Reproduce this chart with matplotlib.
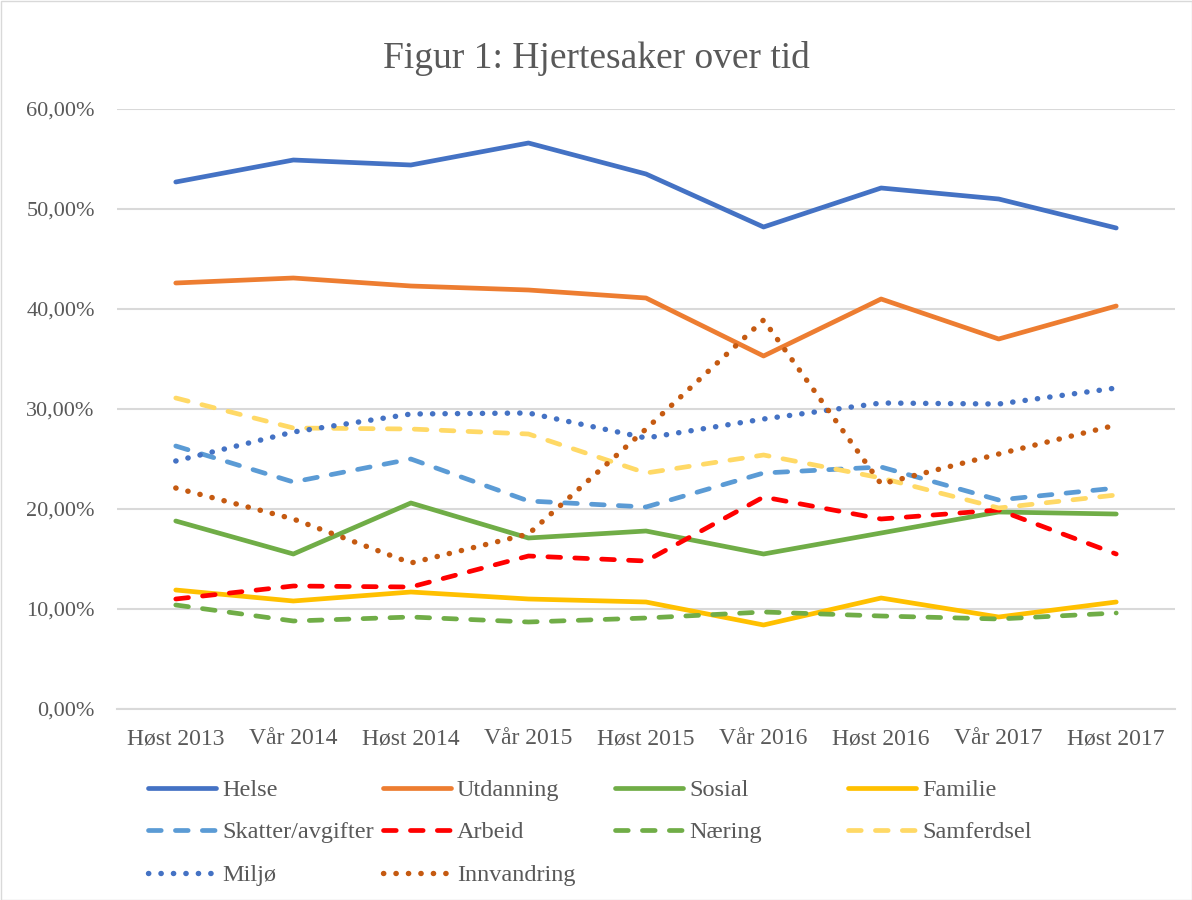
import matplotlib
matplotlib.use("Agg")
import matplotlib.pyplot as plt
from matplotlib.lines import Line2D
from matplotlib.patches import Rectangle

plt.rcParams['font.family'] = ['Liberation Serif', 'DejaVu Serif']

periods = ["Høst 2013", "Vår 2014", "Høst 2014", "Vår 2015", "Høst 2015",
           "Vår 2016", "Høst 2016", "Vår 2017", "Høst 2017"]

helse = [52.7, 54.9, 54.4, 56.6, 53.5, 48.2, 52.1, 51.0, 48.1]
utdanning = [42.6, 43.1, 42.3, 41.9, 41.1, 35.3, 41.0, 37.0, 40.3]
sosial = [18.8, 15.5, 20.6, 17.1, 17.8, 15.5, 17.6, 19.7, 19.5]
familie = [11.9, 10.8, 11.7, 11.0, 10.7, 8.4, 11.1, 9.2, 10.7]
skatter = [26.3, 22.7, 25.0, 20.8, 20.2, 23.6, 24.2, 20.9, 22.1]
arbeid = [11.0, 12.3, 12.2, 15.3, 14.8, 21.2, 19.0, 19.9, 15.5]
naering = [10.4, 8.8, 9.2, 8.7, 9.1, 9.7, 9.3, 9.0, 9.6]
samferdsel = [31.1, 28.1, 28.0, 27.5, 23.6, 25.4, 23.1, 20.1, 21.4]
miljo = [24.8, 27.7, 29.5, 29.6, 27.1, 29.0, 30.6, 30.5, 32.1]
innvandring = [22.1, 19.0, 14.6, 17.5, 28.0, 38.9, 22.5, 25.5, 28.4]

series = [
    ("Helse", helse, "#4472C4", "solid"),
    ("Utdanning", utdanning, "#ED7D31", "solid"),
    ("Sosial", sosial, "#70AD47", "solid"),
    ("Familie", familie, "#FFC000", "solid"),
    ("Skatter/avgifter", skatter, "#5B9BD5", "dash"),
    ("Arbeid", arbeid, "#FF0000", "dash"),
    ("Næring", naering, "#70AD47", "dash"),
    ("Samferdsel", samferdsel, "#FFD966", "dash"),
    ("Miljø", miljo, "#4472C4", "dot"),
    ("Innvandring", innvandring, "#C55A11", "dot"),
]

W, H = 1192, 900
fig = plt.figure(figsize=(W / 100, H / 100), dpi=100)
ax = fig.add_axes([117 / W, (H - 709) / H, (1175 - 117) / W, 600 / H])

lw = 3.4
dashes = {"dash": (2.7, 3.0), "dot": (0.05, 2.25)}


def style_line(line, kind):
    if kind == "solid":
        line.set_solid_capstyle("round")
        line.set_solid_joinstyle("round")
    else:
        line.set_dashes(dashes[kind])
        line.set_dash_capstyle("round")
        line.set_dash_joinstyle("round")


x = list(range(len(periods)))
for name, vals, color, kind in series:
    ln, = ax.plot(x, [v / 100 for v in vals], color=color,
                  lw=lw + (0.5 if kind == "dot" else 0), zorder=3)
    style_line(ln, kind)

ax.set_xlim(-0.5, len(periods) - 0.5)
ax.set_ylim(0, 0.6)
ax.set_yticks([0, 0.1, 0.2, 0.3, 0.4, 0.5, 0.6])
ax.set_yticklabels([f"{t * 100:.2f}%".replace(".", ",") for t in ax.get_yticks()])
ax.set_xticks(x)
ax.set_xticklabels(periods)
ax.tick_params(length=0, labelcolor="#595959")
ax.tick_params(axis="y", pad=16, labelsize=16)
ax.tick_params(axis="x", pad=14, labelsize=17)
ax.grid(axis="y", color="#D9D9D9", lw=1.5, zorder=0)
for s in ["top", "right", "left"]:
    ax.spines[s].set_visible(False)
ax.spines["bottom"].set_color("#D9D9D9")
ax.spines["bottom"].set_linewidth(1.5)

fig.text(0.5, (H - 55) / H, "Figur 1: Hjertesaker over tid", ha="center",
         va="center_baseline", fontsize=27, color="#595959")

# legend laid out like Excel: equal-width columns
col_x = [148, 383, 615, 848]
row_y = [788, 830, 873]
for i, (name, vals, color, kind) in enumerate(series):
    cx = col_x[i % 4]
    cy = row_y[i // 4]
    ln = Line2D([cx / W, (cx + 68) / W], [(H - cy) / H, (H - cy) / H],
                transform=fig.transFigure, color=color,
                lw=lw + (0.5 if kind == "dot" else 0))
    style_line(ln, kind)
    fig.add_artist(ln)
    fig.text((cx + 74) / W, (H - cy) / H, name, ha="left",
             va="center_baseline", fontsize=17.5, color="#595959")

fig.add_artist(Rectangle((0.5 / W, 0.5 / H), 1 - 1 / W, 1 - 1 / H,
                         transform=fig.transFigure, fill=False,
                         edgecolor="#D9D9D9", lw=1))

fig.savefig("out.png", dpi=100)
